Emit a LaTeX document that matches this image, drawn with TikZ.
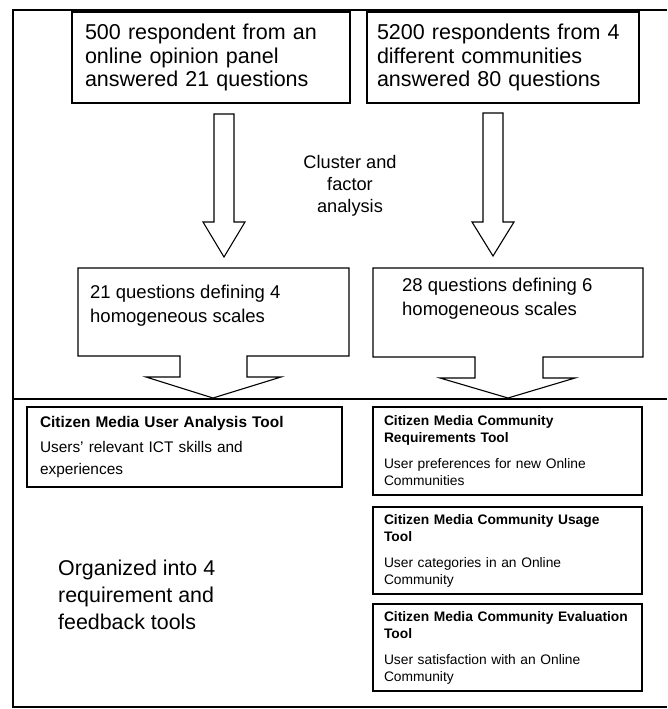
\documentclass[tikz,border=0pt]{standalone}
\usepackage{fontspec}
\setmainfont{Liberation Sans}
\usetikzlibrary{calc}

\begin{document}
\begin{tikzpicture}[x=1pt,y=-1pt,
    box/.style={draw,line width=1.1pt,align=left,anchor=north west,inner ysep=0pt,outer sep=0pt},
    big/.style={font=\fontsize{21.5}{23.5}\selectfont},
    mid/.style={font=\fontsize{18.5}{24}\selectfont},
    tool/.style={box,minimum width=269pt,minimum height=87pt,inner xsep=11pt,text width=247pt,font=\fontsize{13.8}{17}\selectfont},
    outline/.style={line width=1.1pt,line join=miter}]
      \useasboundingbox (0,0) rectangle (667,709);

      \draw[line width=1.6pt] (667,10) -- (13,10) -- (13,707) -- (667,707);
      \draw[line width=1.6pt] (13,399) -- (667,399);

      \node[box,big,minimum width=278pt,minimum height=91pt,inner xsep=13pt,text width=252pt] (1) at (72,12) {500 respondent from an\\online opinion panel\\answered 21 questions};
      \node[box,big,minimum width=272pt,minimum height=91pt,inner xsep=10pt,text width=252pt] (2) at (367,12) {5200 respondents from 4\\different communities\\answered 80 questions};

      \node[align=center,font=\fontsize{18.2}{22}\selectfont] (3) at (350,186) {Cluster and\\factor\\analysis};

      \draw[outline] (214,114) -- (234,114) -- (234,222) -- (245,222) -- (224,257) -- (203,222) -- (214,222) -- cycle;
      \draw[outline] (483,113) -- (503,113) -- (503,222) -- (514,222) -- (493,256) -- (472,222) -- (483,222) -- cycle;

      \node[anchor=north west,minimum width=271pt,minimum height=88pt,inner sep=0pt,outer sep=0pt] (4) at (78,268) {};
      \node[anchor=north west,inner sep=0pt,align=left,mid] (5) at ($(4.north west)+(12,17)$) {21 questions defining 4\\homogeneous scales};
      \draw[outline] (4.south west) -- (4.north west) -- (4.north east) -- (4.south east) -- ++(-102,0) -- ++(0,21) -- ++(34,0) -- ++(-68,21) -- ++(-67,-21) -- ++(34,0) -- ++(0,-21) -- cycle;

      \node[anchor=north west,minimum width=270pt,minimum height=89pt,inner sep=0pt,outer sep=0pt] (6) at (373,268) {};
      \node[anchor=north west,inner sep=0pt,align=left,mid] (7) at ($(6.north west)+(29,10)$) {28 questions defining 6\\homogeneous scales};
      \draw[outline] (6.south west) -- (6.north west) -- (6.north east) -- (6.south east) -- ++(-100,0) -- ++(0,21) -- ++(32,0) -- ++(-67,20) -- ++(-68,-20) -- ++(35,0) -- ++(0,-21) -- cycle;

      \node[box,minimum width=315pt,minimum height=80pt,inner xsep=13pt,text width=289pt,font=\fontsize{15.4}{21.5}\selectfont] (8) at (27,407) {\textbf{Citizen Media User Analysis Tool}\\[3.5pt]Users' relevant ICT skills and\\experiences};

      \node[tool,minimum height=88pt] (9) at (373,407) {\textbf{Citizen Media Community}\\\textbf{Requirements Tool}\\[9pt]User preferences for new Online\\Communities};
      \node[tool] (10) at (373,507) {\textbf{Citizen Media Community Usage}\\\textbf{Tool}\\[9pt]User categories in an Online\\Community};
      \node[tool] (11) at (373,604) {\textbf{Citizen Media Community Evaluation}\\\textbf{Tool}\\[9pt]User satisfaction with an Online\\Community};

      \node[anchor=west,align=left,inner sep=0pt,font=\fontsize{21.4}{27}\selectfont] (12) at (58,595) {Organized into 4\\requirement and\\feedback tools};
    \end{tikzpicture}
\end{document}
